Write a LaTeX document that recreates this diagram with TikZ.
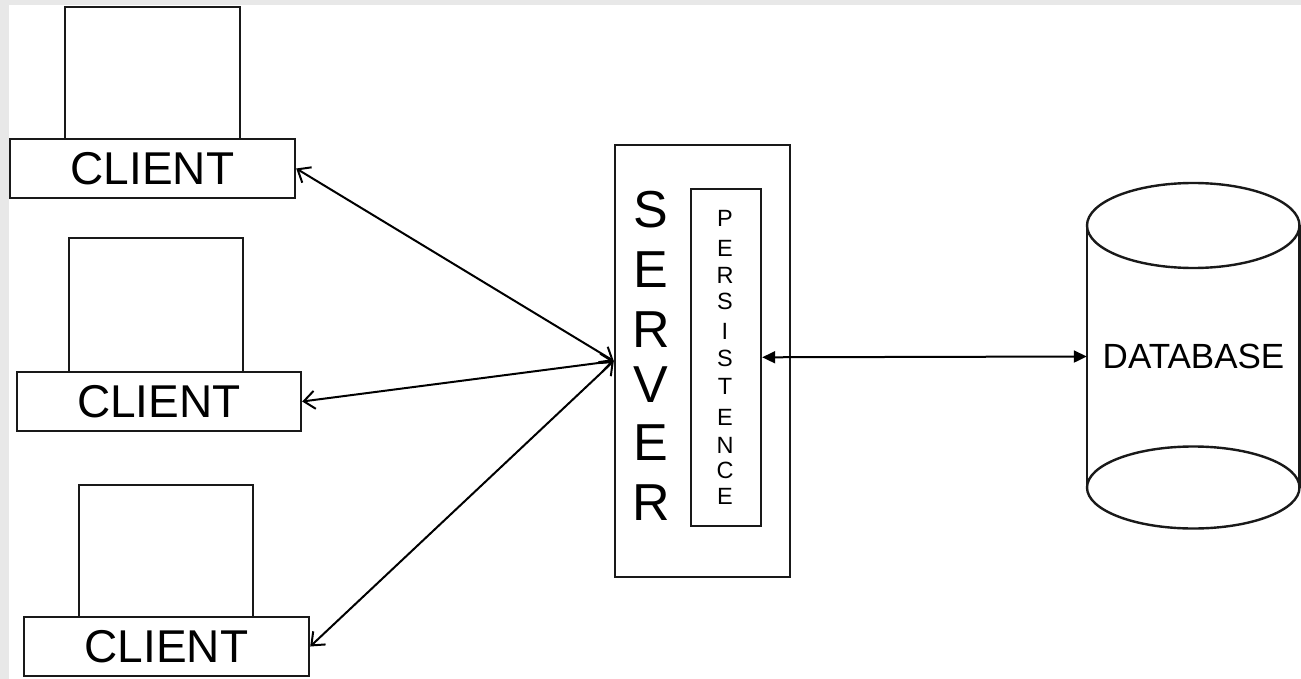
\documentclass[tikz,border=0pt]{standalone}
\usepackage{fontspec}
\setmainfont{Liberation Sans}
\usetikzlibrary{arrows.meta}
\begin{document}
\begin{tikzpicture}[x=1pt,y=-1pt,
  box/.style={draw=black!90, line width=2.4pt, rectangle, inner sep=0pt, fill=white},
  clienttext/.style={font=\fontsize{46}{46}\selectfont},
  bigletter/.style={inner sep=0pt, font=\fontsize{52}{52}\selectfont},
  smallletter/.style={inner sep=0pt, font=\fontsize{23.5}{24}\selectfont},
  openarrows/.style={line width=2pt, {Straight Barb[length=11pt,width=18pt]}-{Straight Barb[length=11pt,width=18pt]}},
  filledarrows/.style={line width=2pt, {Triangle[length=13pt,width=12pt]}-{Triangle[length=13pt,width=12pt]}},
  cyl/.style={draw=black!90, line width=2.4pt}
]
\useasboundingbox (0,0) rectangle (1301,679);
\fill[black!9] (0,0) rectangle (1301,679);
\fill[white] (9,5.5) rectangle (1301,679);

% clients
\node[box, minimum width=175pt, minimum height=132pt] (m1) at (152.5,73) {};
\node[box, minimum width=285pt, minimum height=59pt, clienttext] (b1) at (152.5,168.5) {CLIENT};
\node[box, minimum width=174pt, minimum height=134pt] (m2) at (156,305) {};
\node[box, minimum width=284pt, minimum height=59pt, clienttext] (b2) at (159,401.5) {CLIENT};
\node[box, minimum width=174pt, minimum height=132pt] (m3) at (166,551) {};
\node[box, minimum width=285pt, minimum height=59pt, clienttext] (b3) at (166.5,646.5) {CLIENT};

% server
\node[box, minimum width=175pt, minimum height=432pt] (srv) at (702.5,361) {};
\node[box, minimum width=70pt, minimum height=337pt] (pers) at (726,357.3) {};
\node[bigletter] (s1) at (651,209.5) {S};
\node[bigletter] (s2) at (651,269.5) {E};
\node[bigletter] (s3) at (651,329.5) {R};
\node[bigletter] (s4) at (651,385) {V};
\node[bigletter] (s5) at (651,443) {E};
\node[bigletter] (s6) at (651,502.5) {R};

\node[smallletter] (p1) at (725,218.5) {P};
\node[smallletter] (p2) at (725,248.5) {E};
\node[smallletter] (p3) at (725,275) {R};
\node[smallletter] (p4) at (725,301) {S};
\node[smallletter] (p5) at (725,331.5) {I};
\node[smallletter] (p6) at (725,358) {S};
\node[smallletter] (p7) at (725,386) {T};
\node[smallletter] (p8) at (725,417.5) {E};
\node[smallletter] (p9) at (725,445) {N};
\node[smallletter] (p10) at (725,470) {C};
\node[smallletter] (p11) at (725,496.5) {E};

% database cylinder
\node[minimum width=213pt, minimum height=262pt, inner sep=0pt, font=\fontsize{35}{35}\selectfont] (db) at (1193.5,356.5) {DATABASE};
\draw[cyl] (1087,225.5) -- (1087,487.5);
\draw[cyl] (1299.5,225.5) -- (1299.5,487.5);
\draw[cyl] (1193.25,225.5) ellipse [x radius=106.25pt, y radius=42.5pt];
\draw[cyl] (1193.25,487.5) ellipse [x radius=106.25pt, y radius=41pt];

% connectors
\draw[openarrows] (b1.east) -- (srv.west);
\draw[openarrows] (b2.east) -- (srv.west);
\draw[openarrows] (b3.east) -- (srv.west);
\draw[filledarrows] (pers.east) -- (db.west);
\end{tikzpicture}
\end{document}
